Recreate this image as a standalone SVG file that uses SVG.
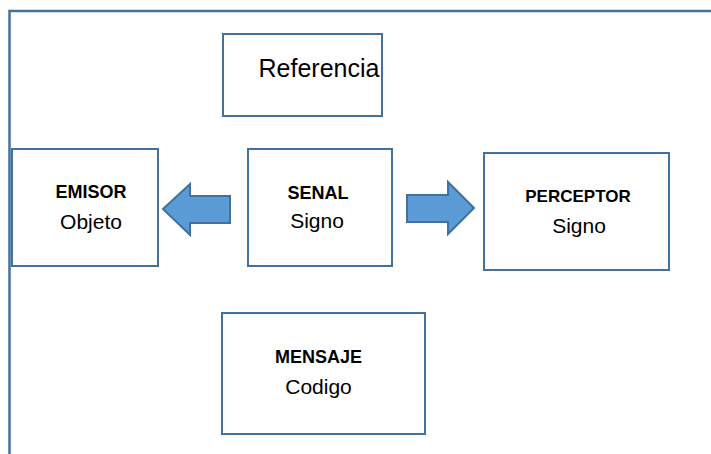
<svg xmlns="http://www.w3.org/2000/svg" width="711" height="454" viewBox="0 0 711 454">
<style>
.box{fill:#fff;stroke:#41719c;stroke-width:2}
.arrow{fill:#5b9bd5;stroke:#41719c;stroke-width:2;stroke-linejoin:miter}
text{font-family:"Liberation Sans",Arial,sans-serif;fill:#000;text-anchor:middle}
.b{font-weight:bold;font-size:18px}
.r{font-size:21px}
</style>
<rect width="711" height="454" fill="#fff"/>
<g id="frame"><rect x="9.5" y="11" width="760" height="520" fill="none" stroke="#41719c" stroke-width="2.5"/></g>
<g id="referencia">
<rect class="box" x="223" y="34" width="159" height="82"/>
<text x="319" y="77" font-size="25">Referencia</text>
</g>
<g id="emisor">
<rect class="box" x="12" y="149" width="146" height="117"/>
<text class="b" x="91" y="198">EMISOR</text>
<text class="r" x="91" y="229">Objeto</text>
</g>
<g id="senal">
<rect class="box" x="248" y="149" width="144" height="117"/>
<text class="b" x="318" y="199">SENAL</text>
<text class="r" x="317" y="228">Signo</text>
</g>
<g id="perceptor">
<rect class="box" x="484" y="153" width="185" height="117"/>
<text class="b" x="578" y="202" style="font-size:17px">PERCEPTOR</text>
<text class="r" x="579" y="233">Signo</text>
</g>
<g id="mensaje">
<rect class="box" x="222" y="313" width="203" height="121"/>
<text class="b" x="318.5" y="363">MENSAJE</text>
<text class="r" x="318.5" y="394">Codigo</text>
</g>
<g id="connectors">
<polygon class="arrow" points="163,209 190,184 190,196 230,196 230,223 190,223 190,235"/>
<polygon class="arrow" points="474,208 448,182 448,195 407,195 407,222 448,222 448,234"/>
</g>
</svg>
